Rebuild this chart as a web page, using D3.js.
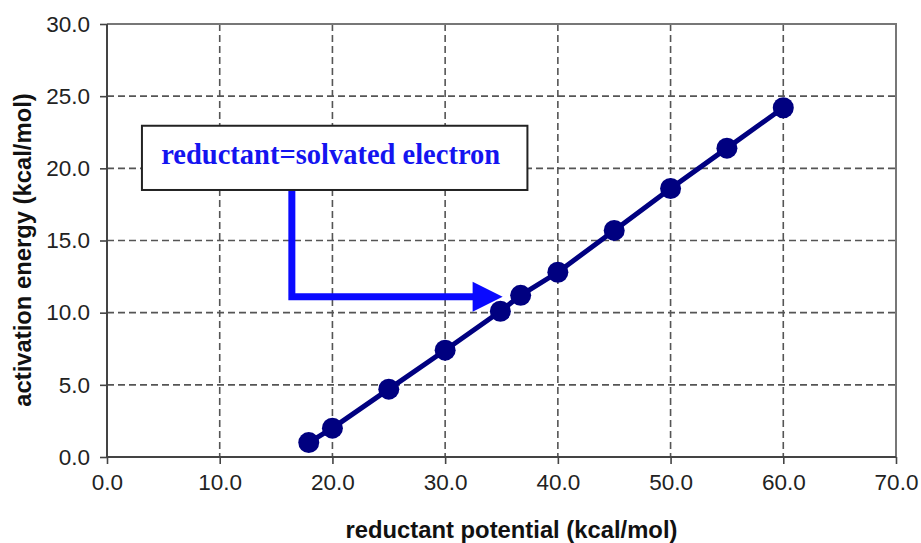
<!DOCTYPE html>
<html>
<head>
<meta charset="utf-8">
<script src="https://cdn.jsdelivr.net/npm/d3@7"></script>
<style>
  body { margin: 0; background: #fff; }
  svg { display: block; }
  .tick text { font-family: "Liberation Sans", Arial, sans-serif; font-size: 22.5px; fill: #222; }
  .title { font-family: "Liberation Sans", Arial, sans-serif; font-size: 23.8px; font-weight: bold; fill: #111; }
</style>
</head>
<body>
<svg width="921" height="543"></svg>
<script>
// reductant potential (kcal/mol) vs activation energy (kcal/mol)
var potential = [17.9, 20.0, 25.0, 30.0, 34.9, 36.7, 40.0, 45.0, 50.0, 55.0, 60.0];
var energy    = [1.0, 2.0, 4.7, 7.4, 10.1, 11.2, 12.8, 15.7, 18.6, 21.4, 24.2];

var xTicks = [0, 10, 20, 30, 40, 50, 60, 70];
var yTicks = [0, 5, 10, 15, 20, 25, 30];

// annotation, in data units
var noteText = "reductant=solvated electron";
var noteBoxX = [3.1, 37.3];
var noteBoxY = [18.5, 22.95];
var arrowPts = [[16.4, 18.5], [16.4, 11.1], [35.1, 11.1]];

var svg = d3.select("svg"),
    margin = {top: 24, right: 25, bottom: 86, left: 107},
    width = +svg.attr("width") - margin.left - margin.right,
    height = +svg.attr("height") - margin.top - margin.bottom;

var x = d3.scaleLinear().domain([0, 70]).range([0, width]);
var y = d3.scaleLinear().domain([0, 30]).range([height, 0]);

var g = svg.append("g").attr("transform", "translate(" + margin.left + "," + margin.top + ")");

// grid
g.selectAll(".vgrid")
    .data(xTicks.slice(1, -1))
    .enter().append("line")
    .attr("x1", function(d) { return x(d); })
    .attr("x2", function(d) { return x(d); })
    .attr("y1", 0).attr("y2", height)
    .attr("stroke", "#555").attr("stroke-width", 1.6)
    .attr("stroke-dasharray", "7,4");
g.selectAll(".hgrid")
    .data(yTicks.slice(1, -1))
    .enter().append("line")
    .attr("y1", function(d) { return y(d); })
    .attr("y2", function(d) { return y(d); })
    .attr("x1", 0).attr("x2", width)
    .attr("stroke", "#555").attr("stroke-width", 1.6)
    .attr("stroke-dasharray", "7,4");

// top and right border
g.append("path")
    .attr("d", "M0,0H" + width + "V" + height)
    .attr("fill", "none").attr("stroke", "#777").attr("stroke-width", 2);

// axes
var xAxis = g.append("g")
    .attr("transform", "translate(0," + height + ")")
    .call(d3.axisBottom(x).tickValues(xTicks).tickSize(7).tickPadding(10)
        .tickFormat(function(d) { return d.toFixed(1); }));
var yAxis = g.append("g")
    .call(d3.axisLeft(y).tickValues(yTicks).tickSize(7).tickPadding(10)
        .tickFormat(function(d) { return d.toFixed(1); }));
[xAxis, yAxis].forEach(function(a) {
    a.select(".domain").attr("stroke", "#444").attr("stroke-width", 2);
    a.selectAll(".tick line").attr("stroke", "#444").attr("stroke-width", 1.6);
});
yAxis.select(".domain").attr("d", "M0," + height + "V0");
xAxis.select(".domain").attr("d", "M0,0H" + width);

// series
var pts = potential.map(function(p, i) { return [p, energy[i]]; });
var line = d3.line()
    .x(function(d) { return x(d[0]); })
    .y(function(d) { return y(d[1]); });
g.append("path")
    .datum(pts)
    .attr("d", line)
    .attr("fill", "none")
    .attr("stroke", "#000080")
    .attr("stroke-width", 5);
g.selectAll(".dot")
    .data(pts)
    .enter().append("circle")
    .attr("cx", function(d) { return x(d[0]); })
    .attr("cy", function(d) { return y(d[1]); })
    .attr("r", 10.5)
    .attr("fill", "#000080");

// annotation arrow
var tip = arrowPts[arrowPts.length - 1];
var tipX = x(tip[0]), tipY = y(tip[1]);
var headLen = 30, headHalf = 15;
var shaft = arrowPts.slice(0, -1).map(function(d) { return [x(d[0]), y(d[1])]; });
shaft.push([tipX - headLen + 2, tipY]);
g.append("path")
    .attr("d", d3.line()(shaft))
    .attr("fill", "none")
    .attr("stroke", "#0a0aff")
    .attr("stroke-width", 7);
g.append("path")
    .attr("d", "M" + tipX + "," + tipY + "L" + (tipX - headLen) + "," + (tipY - headHalf) +
        "L" + (tipX - headLen) + "," + (tipY + headHalf) + "Z")
    .attr("fill", "#0a0aff");

// annotation box
g.append("rect")
    .attr("x", x(noteBoxX[0]))
    .attr("y", y(noteBoxY[1]))
    .attr("width", x(noteBoxX[1]) - x(noteBoxX[0]))
    .attr("height", y(noteBoxY[0]) - y(noteBoxY[1]))
    .attr("fill", "#fff")
    .attr("stroke", "#222")
    .attr("stroke-width", 2);
g.append("text")
    .attr("x", (x(noteBoxX[0]) + x(noteBoxX[1])) / 2 - 4)
    .attr("y", (y(noteBoxY[0]) + y(noteBoxY[1])) / 2 + 6)
    .attr("text-anchor", "middle")
    .style("font-family", "'Liberation Serif', 'Times New Roman', serif")
    .style("font-weight", "bold")
    .style("font-size", "28.5px")
    .style("fill", "#1414f0")
    .text(noteText);

// titles
svg.append("text")
    .attr("class", "title")
    .attr("x", margin.left + width / 2 + 10)
    .attr("y", 538)
    .attr("text-anchor", "middle")
    .text("reductant potential (kcal/mol)");
svg.append("text")
    .attr("class", "title")
    .attr("transform", "translate(31,250) rotate(-90)")
    .attr("text-anchor", "middle")
    .text("activation energy (kcal/mol)");
</script>
</body>
</html>
